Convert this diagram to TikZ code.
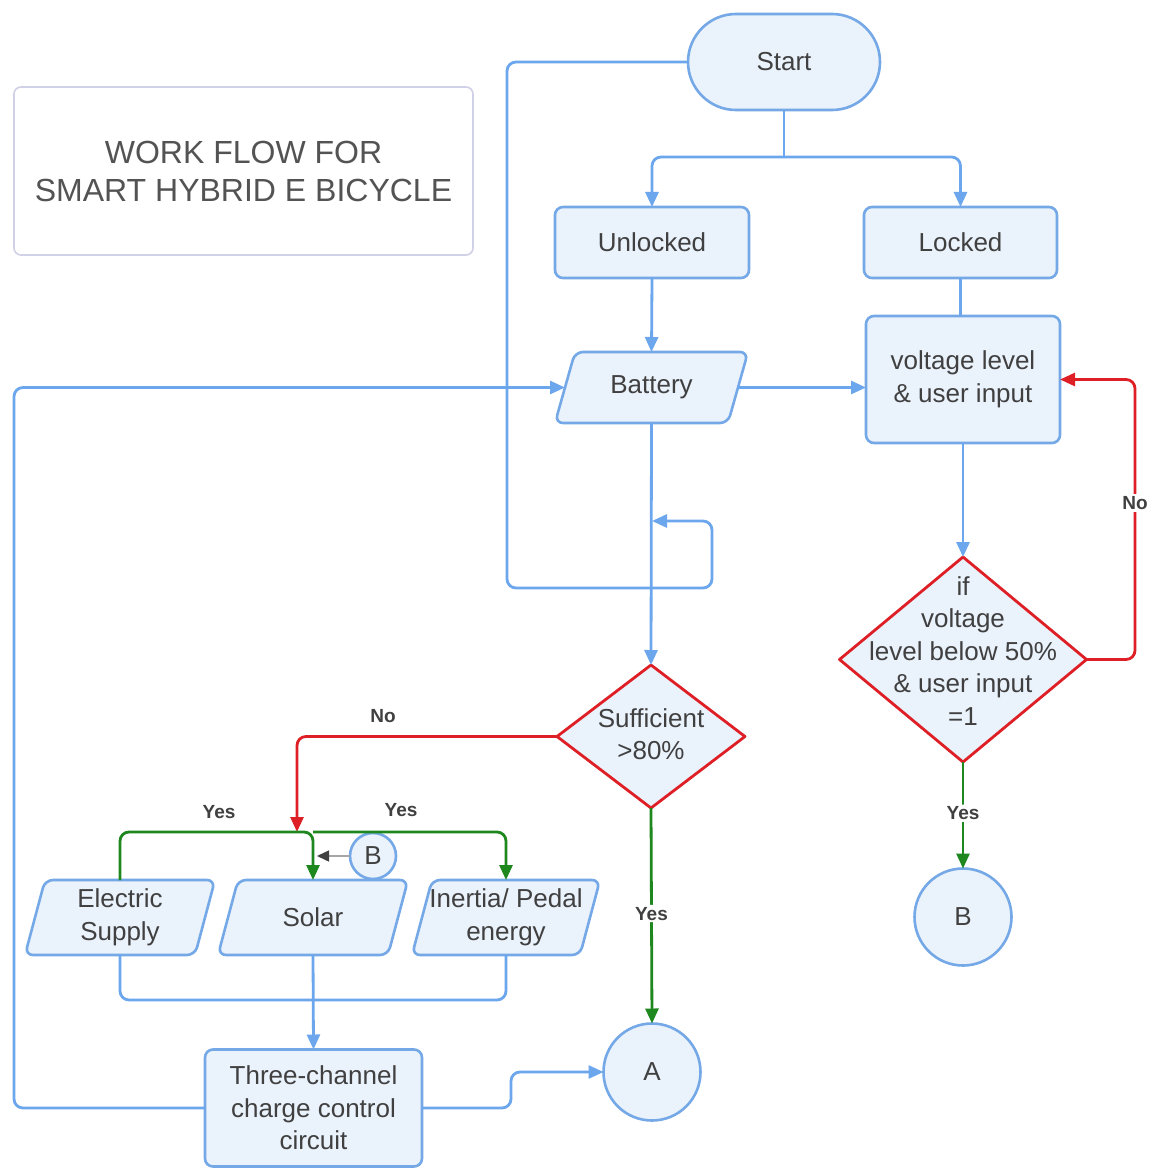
\documentclass[tikz,border=0pt]{standalone}
\usepackage{fontspec}
\setmainfont{Liberation Sans}
\usetikzlibrary{arrows.meta,shapes.geometric,shapes.misc,calc,backgrounds}
\definecolor{flowblue}{RGB}{108,166,236}
\definecolor{boxfill}{RGB}{234,242,252}
\definecolor{boxedge}{RGB}{116,168,230}
\definecolor{noRed}{RGB}{222,32,38}
\definecolor{yesGreen}{RGB}{30,135,30}
\definecolor{txt}{RGB}{64,64,64}
\definecolor{titleedge}{RGB}{208,208,230}
% slanted input/output box drawn round a plain text node
\newcommand\paraShape[1]{%
  \draw[box] ($(#1.north west)+(10,0)$) -- ($(#1.north east)+(10,0)$)
    -- ($(#1.south east)-(10,0)$) -- ($(#1.south west)-(10,0)$) -- cycle;}
\begin{document}
\begin{tikzpicture}[x=1pt,y=-1pt,
  every node/.style={text=txt, font=\fontsize{26}{32.5}\selectfont,
    inner sep=0pt, outer sep=0pt, align=center},
  box/.style={draw=boxedge, fill=boxfill, line width=2.6pt, rounded corners=8pt},
  circ/.style={circle, draw=boxedge, fill=boxfill, line width=2.6pt},
  decision/.style={diamond, draw=noRed, fill=boxfill, line width=2.8pt, line join=round},
  conn/.style={draw=flowblue, line width=2.8pt, rounded corners=9pt},
  arr/.style={-{Triangle[length=15pt,width=13pt]}},
  redconn/.style={conn, draw=noRed},
  greenconn/.style={conn, draw=yesGreen},
  lbl/.style={font=\bfseries\fontsize{19}{22}\selectfont, text=txt, fill=white, inner sep=2pt},
]
\useasboundingbox (0,0) rectangle (1156,1169);

% title
\node[draw=titleedge, line width=1.6pt, rounded corners=7pt,
  minimum width=459pt, minimum height=168pt,
  font=\fontsize{32}{38}\selectfont, text=txt!90] (title) at (243.5,171)
  {WORK FLOW FOR\\SMART HYBRID E BICYCLE};

% main nodes
\node[rounded rectangle, draw=boxedge, fill=boxfill, line width=2.6pt,
  minimum width=192pt, minimum height=96pt] (start) at (784,62) {Start};
\node[box, minimum width=194pt, minimum height=71pt] (unl) at (652,242.5) {Unlocked};
\node[box, minimum width=193pt, minimum height=71pt] (lock) at (960.5,242.5) {Locked};
\node[minimum width=173pt, minimum height=71pt] (bat) at (651.5,387.5) {Battery};
\node[box, minimum width=194pt, minimum height=127pt] (volt) at (963,379.5)
  {voltage level\\\& user input};

\node[decision, minimum width=247pt, minimum height=205pt] (d2) at (963,659.5) {};
\node (d2t) at (963,651) {if\\voltage\\level below 50\%\\\& user input\\=1};
\node[decision, minimum width=188pt, minimum height=143pt] (d1) at (651,736.5) {};
\node (d1t) at (651,734) {Sufficient\\>80\%};

\node[circ, minimum size=97pt] (bB) at (963,917) {B};
\node[circ, minimum size=97pt] (A) at (652,1072) {A};
\node[circ, minimum size=46pt] (sB) at (373,856) {B};

\node[minimum width=170pt, minimum height=75pt] (elec) at (120,917.5) {Electric\\Supply};
\node[minimum width=170pt, minimum height=75pt] (solar) at (313,917.5) {Solar};
\node[minimum width=168pt, minimum height=75pt] (inert) at (506,917.5) {Inertia/ Pedal\\energy};
\node[box, minimum width=217pt, minimum height=117pt] (three) at (313.5,1108)
  {Three-channel\\charge control\\circuit};

\begin{scope}[on background layer]
  \fill[white] (0,0) rectangle (1156,1169);
  \paraShape{bat}
  \paraShape{elec}
  \paraShape{solar}
  \paraShape{inert}
\end{scope}

% connectors
\coordinate (jn) at (784,157);
\draw[conn] (start.south) -- (jn);
\draw[conn,arr] (jn) -| (unl.north);
\draw[conn,arr] (jn) -| (lock.north);

\coordinate (lp1) at (507,588);
\coordinate (lp2) at (712,521);
\coordinate (jb) at (652,521);
\draw[conn,arr] (start.west) -| (lp1) -| (lp2) -- (jb);

\draw[conn,arr] (unl.south) -- (bat.north);
\draw[conn,arr] (bat.east) -- (bat.east -| volt.west);
\draw[conn] (lock.south) -- (lock.south |- volt.north);
\draw[conn,arr] (volt.south) -- (d2.north);

\coordinate (nr) at (1135,0);
\draw[redconn,arr] (d2.east) -| (nr |- volt.east) -- (volt.east);
\node[lbl] at (1135,503) {No};
\draw[greenconn,arr] (d2.south) -- (bB.north) node[lbl,pos=0.48] {Yes};

\draw[conn,arr] (bat.south) -- (d1.north);
\coordinate (rj) at (297,832);
\draw[redconn,arr] (d1.west) -| (rj);
\node[lbl, fill=none] at (383,716) {No};
\draw[greenconn,arr] (d1.south) -- (A.north) node[lbl,pos=0.49] {Yes};

\coordinate (gj) at (313,832);
\draw[greenconn,arr] (elec.north) |- (gj) -- (solar.north);
\draw[greenconn,arr] (gj) -| (inert.north);
\node[lbl, fill=none] at (219,812) {Yes};
\node[lbl, fill=none] at (401,810) {Yes};
\draw[draw=gray!70, line width=1.5pt, shorten >=4pt,
  -{Triangle[length=12pt,width=11pt,color=txt]}] (sB.west) -- (solar.north |- sB.west);

\coordinate (bj) at (313,1000);
\draw[conn] (elec.south) |- (bj) -| (inert.south);
\draw[conn,arr] (solar.south) -- (three.north);

\coordinate (lb) at (14,0);
\draw[conn,arr] (three.west) -| (lb |- bat.west) -- (bat.west);
\coordinate (rb) at (511,0);
\draw[conn,arr] (three.east) -| (rb |- A.west) -- (A.west);
\end{tikzpicture}
\end{document}
